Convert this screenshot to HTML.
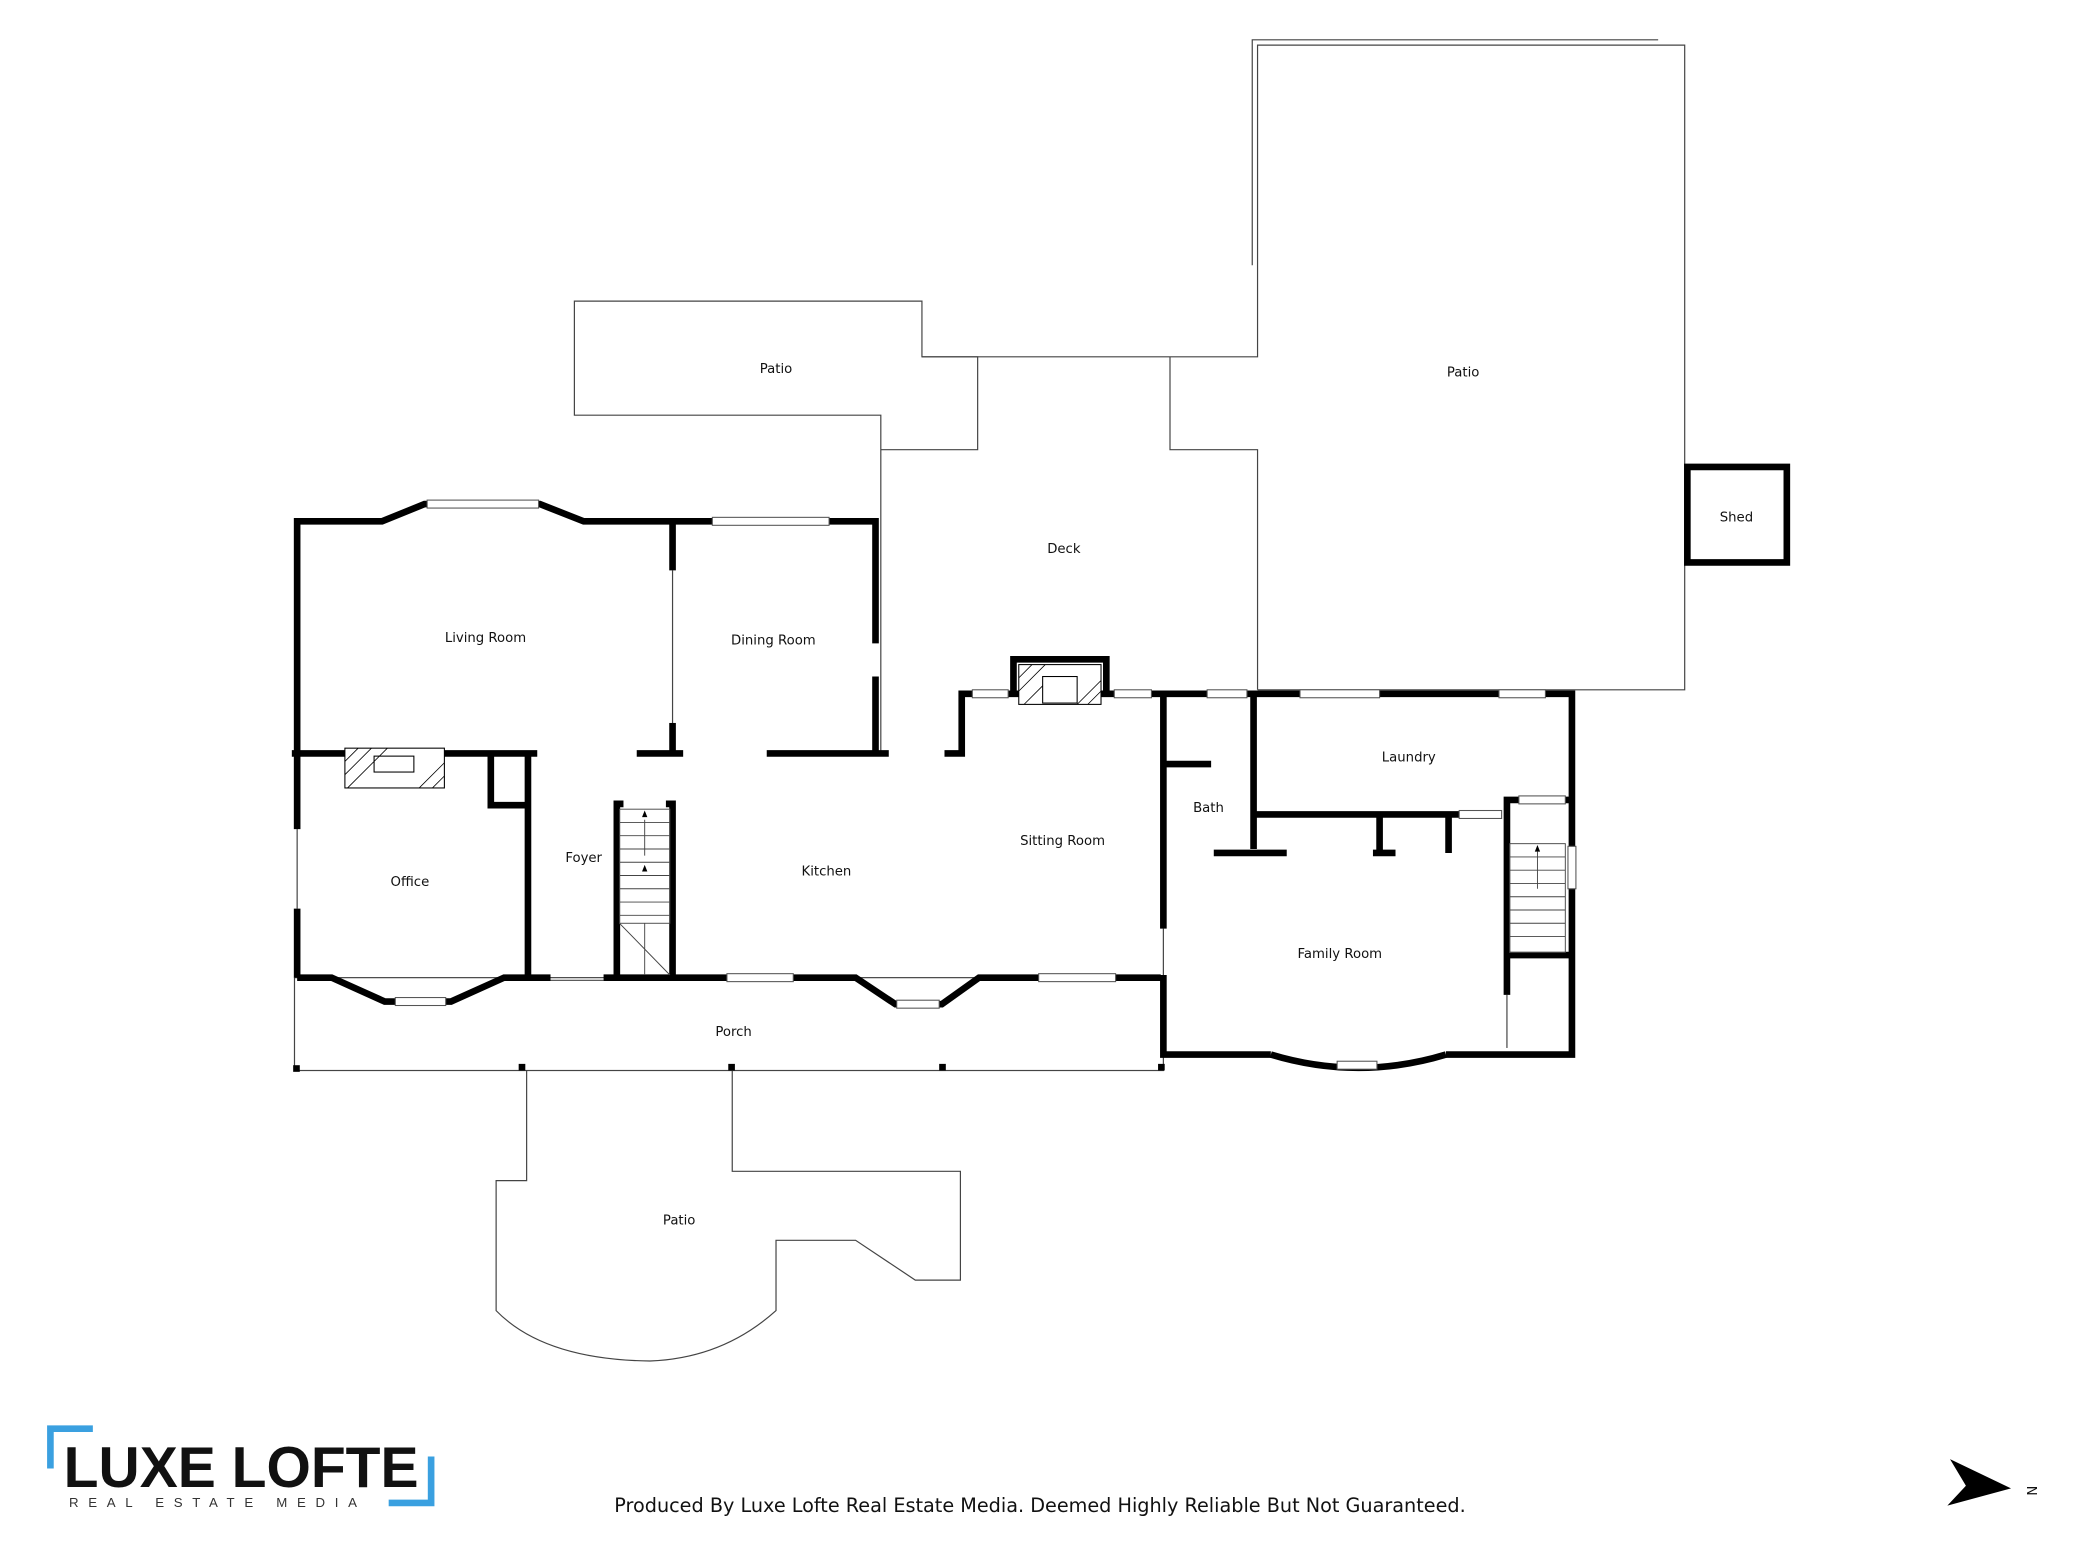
<!DOCTYPE html>
<html><head><meta charset="utf-8"><style>
html,body{margin:0;padding:0;background:#fff}
svg{display:block}
text{font-family:"DejaVu Sans","Liberation Sans",sans-serif;fill:#111}
</style></head><body>
<svg width="2080" height="1560" viewBox="0 0 1568 1176" preserveAspectRatio="none" xmlns="http://www.w3.org/2000/svg">
<rect width="1568" height="1176" fill="#fff"/>
<g fill="none" stroke="#444" stroke-width="0.9">
<polyline points="664,568 664,313 433,313 433,227 695,227 695,269 948,269 948,34 1270,34 1270,520 948,520"/>
<polyline points="695,269 737,269 737,339 664,339"/>
<polyline points="882,269 882,339 948,339 948,520"/>
<polyline points="944,200 944,30 1250,30"/>
<rect x="222" y="737" width="655" height="70"/>
<path d="M397,807 L397,890 L374,890 L374,988 Q410,1025 490,1026 Q545,1024 585,988 L585,935 L645,935 L690,965 L724,965 L724,883 L552,883 L552,807"/>
<line x1="507" y1="430" x2="507" y2="545"/>
<line x1="224" y1="625" x2="224" y2="685"/>
<line x1="877" y1="700" x2="877" y2="735"/>
<line x1="1136" y1="750" x2="1136" y2="790"/>
<line x1="1272" y1="370" x2="1272" y2="410"/>
<line x1="415" y1="739" x2="455" y2="739"/>
</g>
<g fill="none" stroke="#000" stroke-width="5" stroke-linejoin="miter">
<polyline points="224,737 224,685"/>
<polyline points="224,625 224,393 288,393 320,380 407,380 440,393 660,393 660,485"/>
<polyline points="660,510 660,568"/>
<line x1="507" y1="393" x2="507" y2="430"/><line x1="507" y1="545" x2="507" y2="568"/>
<line x1="220" y1="568" x2="405" y2="568"/><line x1="480" y1="568" x2="515" y2="568"/>
<line x1="578" y1="568" x2="670" y2="568"/>
<polyline points="712,568 725,568 725,523 1185,523 1185,795 1090,795"/>
<polyline points="958,795 877,795 877,735"/>
<path d="M958,795 Q1024,815 1090,795" />
<polyline points="877,700 877,523"/>
<polyline points="764,523 764,497 834,497 834,523"/>
<line x1="945" y1="523" x2="945" y2="640"/>
<line x1="877" y1="576" x2="913" y2="576"/>
<line x1="915" y1="643" x2="970" y2="643"/>
<polyline points="945,614 1100,614"/>
<polyline points="1040,614 1040,643 1035,643 1052,643"/>
<polyline points="1092,614 1092,643"/>
<polyline points="1136,750 1136,603 1185,603"/>
<line x1="1136" y1="720" x2="1185" y2="720"/>
<polyline points="370,568 370,607 398,607"/>
<line x1="398" y1="568" x2="398" y2="737"/>
<polyline points="224,737 250,737 290,755 340,755 380,737 415,737"/>
<polyline points="455,737 645,737 675,757 710,757 738,737 875,737"/>
<polyline points="465,737 465,606 470,606"/>
<polyline points="502,606 507,606 507,737"/>
<rect x="1272" y="352" width="75" height="72"/>
</g>
<g fill="#fff" stroke="#555" stroke-width="0.8">
<rect x="322" y="377" width="84" height="6"/><rect x="537" y="390" width="88" height="6"/>
<rect x="733" y="520" width="27" height="6"/><rect x="840" y="520" width="28" height="6"/>
<rect x="910" y="520" width="30" height="6"/><rect x="980" y="520" width="60" height="6"/>
<rect x="1130" y="520" width="35" height="6"/><rect x="1182" y="638" width="6" height="32"/>
<rect x="1008" y="800" width="30" height="6"/><rect x="298" y="752" width="38" height="6"/>
<rect x="548" y="734" width="50" height="6"/><rect x="676" y="754" width="32" height="6"/>
<rect x="783" y="734" width="58" height="6"/><rect x="1145" y="600" width="35" height="6"/>
<rect x="1100" y="611" width="32" height="6"/>
</g>
<g stroke="#000" stroke-width="0.8" fill="#fff">
<rect x="260" y="564" width="75" height="30"/><rect x="282" y="570" width="30" height="12"/>
<rect x="768" y="501" width="62" height="30"/><rect x="786" y="510" width="26" height="20"/>
</g>
<g stroke="#000" stroke-width="0.6" fill="none">
<path d="M260,574 L270,564 M260,584 L280,564 M262,594 L292,564 M316,594 L335,575 M326,594 L335,585 M768,511 L778,501 M768,521 L788,501 M772,531 L786,517 M812,531 L830,513 M820,531 L830,521"/>
</g>
<g stroke="#444" stroke-width="0.7" fill="none">
<rect x="467" y="610" width="38" height="86"/>
<path d="M467,620H505M467,630H505M467,640H505M467,650H505M467,660H505M467,670H505M467,680H505M467,690H505M467,696L505,735M486,696V735"/>
<rect x="1138" y="636" width="42" height="82"/>
<path d="M1138,646H1180M1138,656H1180M1138,666H1180M1138,676H1180M1138,686H1180M1138,696H1180M1138,706H1180"/>
<path d="M486,618V645M1159,642V670"/>
</g>
<g fill="#000"><path d="M486,611l-2,5h4z M486,652l-2,5h4z M1159,637l-2,5h4z"/></g>
<g fill="#000"><rect x="221" y="803" width="5" height="5"/><rect x="391" y="802" width="5" height="5"/><rect x="549" y="802" width="5" height="5"/><rect x="708" y="802" width="5" height="5"/><rect x="873" y="802" width="5" height="5"/></g>
<g font-size="10" text-anchor="middle">
<text x="585" y="281">Patio</text><text x="1103" y="284">Patio</text>
<text x="802" y="417">Deck</text><text x="1309" y="393">Shed</text>
<text x="366" y="484">Living Room</text><text x="583" y="486">Dining Room</text>
<text x="1062" y="574">Laundry</text><text x="911" y="612">Bath</text>
<text x="801" y="637">Sitting Room</text><text x="440" y="650">Foyer</text>
<text x="623" y="660">Kitchen</text><text x="309" y="668">Office</text>
<text x="1010" y="722">Family Room</text><text x="553" y="781">Porch</text>
<text x="512" y="923">Patio</text>
</g>
<path d="M38,1107 V1077 H70" fill="none" stroke="#3aa0e0" stroke-width="5"/>
<path d="M293,1133 H325 V1098" fill="none" stroke="#3aa0e0" stroke-width="5"/>
<text x="48" y="1121" font-size="43" font-weight="bold" style="fill:#111;font-family:'Liberation Sans',sans-serif">LUXE LOFTE</text>
<text x="52" y="1136" font-size="10" letter-spacing="7.3" style="fill:#333;font-family:'Liberation Sans',sans-serif">REAL ESTATE MEDIA</text>
<text x="784" y="1140" font-size="14.5" text-anchor="middle">Produced By Luxe Lofte Real Estate Media. Deemed Highly Reliable But Not Guaranteed.</text>
<path d="M1470,1100 L1516,1122 L1468,1135 L1482,1120 Z" fill="#000"/>
<text x="1522" y="1122" font-size="10" transform="rotate(90 1526 1124)">N</text>
</svg>
</body></html>
